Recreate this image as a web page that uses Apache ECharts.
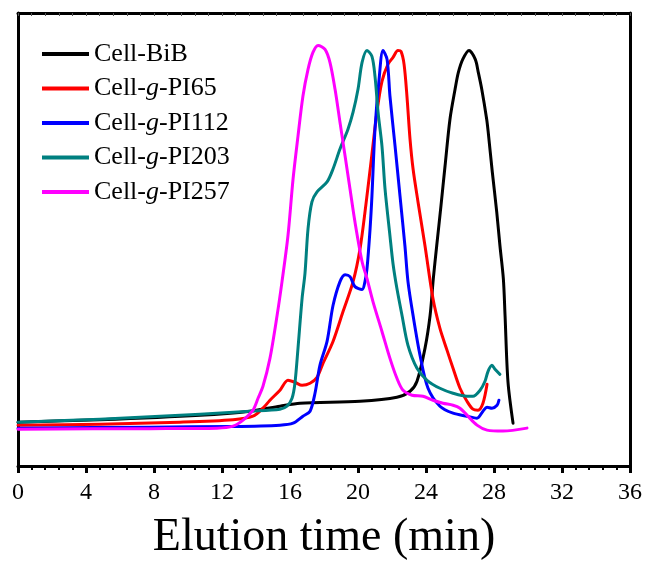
<!DOCTYPE html>
<html>
<head>
<meta charset="utf-8">
<script src="https://cdn.jsdelivr.net/npm/echarts@6/dist/echarts.min.js"></script>
<style>html,body{margin:0;padding:0;background:#fff;}#c{width:648px;height:566px;}</style>
</head>
<body>
<div id="c"></div>
<script>
// Elution time (min) and detector signal (arbitrary units, 0-100) per sample
const seriesNames = ['Cell-BiB', 'Cell-g-PI65', 'Cell-g-PI112', 'Cell-g-PI203', 'Cell-g-PI257'];
const seriesColors = ['#000000', '#ff0000', '#0000ff', '#008080', '#ff00ff'];
const xTicks = [0, 4, 8, 12, 16, 20, 24, 28, 32, 36];

const bibTime = [0, 4.82, 10.71, 13.65, 15.41, 16.59, 20.12, 22.29, 23.06, 23.47, 23.94, 24.24, 24.43, 24.63, 24.88, 25.12, 25.41, 25.71, 25.9, 26.16, 26.53, 26.9, 27.08, 27.28, 27.57, 27.66, 27.9, 28.16, 28.35, 28.55, 28.65, 28.82, 29.12];
const bibSignal = [9.68, 10.23, 11.22, 12.1, 13.2, 13.86, 14.3, 15.18, 16.5, 18.7, 25.96, 33.22, 41.36, 48.62, 57.42, 66.22, 76.56, 83.16, 86.83, 89.76, 91.74, 89.76, 86.83, 83.16, 76.56, 73.7, 64.9, 56.1, 48.62, 41.36, 33.22, 18.7, 9.46];

const pi65Time = [0, 4.82, 9.53, 12.65, 13.82, 14.41, 14.82, 15.41, 15.88, 16.29, 16.71, 17.18, 17.59, 17.94, 18.53, 19.12, 19.71, 20.12, 20.47, 20.82, 21.12, 21.41, 21.76, 22.06, 22.35, 22.53, 22.71, 22.88, 23.06, 23.24, 23.53, 23.94, 24.41, 24.82, 25.24, 25.59, 26.0, 26.41, 26.76, 27.06, 27.35, 27.59];
const pi65Signal = [9.02, 9.24, 9.68, 10.23, 11.0, 12.76, 14.52, 16.72, 18.92, 18.48, 17.82, 18.26, 19.58, 22.66, 27.5, 34.1, 40.7, 47.96, 57.86, 68.86, 78.32, 84.92, 88.66, 90.2, 91.74, 91.52, 88.66, 81.62, 72.16, 65.56, 58.3, 48.62, 36.96, 30.36, 25.52, 21.56, 17.16, 14.3, 12.54, 12.32, 13.86, 18.04];

const pi112Time = [0, 7.76, 12.65, 15.41, 16.18, 16.76, 17.18, 17.47, 17.76, 18.18, 18.53, 18.94, 19.24, 19.53, 19.82, 20.24, 20.41, 20.53, 20.71, 20.82, 21.0, 21.24, 21.47, 21.71, 21.88, 22.18, 22.47, 22.76, 22.94, 23.24, 23.65, 24.12, 24.82, 25.59, 26.41, 27.0, 27.35, 27.59, 27.88, 28.18, 28.29];
const pi112Signal = [8.36, 8.58, 8.73, 9.02, 9.46, 11.0, 12.1, 16.06, 22.22, 27.5, 35.42, 40.7, 42.24, 41.8, 39.6, 38.94, 40.7, 43.56, 52.36, 59.62, 74.36, 85.36, 91.74, 89.76, 81.62, 70.62, 59.62, 48.62, 40.7, 33.22, 24.42, 17.16, 13.2, 11.66, 11.0, 10.56, 12.1, 12.98, 12.76, 13.42, 14.52];

const pi203Time = [0, 4.82, 10.71, 13.65, 15.41, 15.82, 16.12, 16.29, 16.47, 16.71, 16.88, 17.06, 17.29, 17.59, 18.18, 18.53, 18.94, 19.41, 19.71, 20.0, 20.24, 20.53, 20.82, 21.0, 21.18, 21.41, 21.59, 21.88, 22.06, 22.29, 22.59, 22.94, 23.47, 24.06, 24.82, 25.59, 26.41, 26.76, 27.18, 27.47, 27.65, 27.88, 28.06, 28.35];
const pi203Signal = [9.68, 10.34, 11.44, 12.1, 12.54, 13.2, 14.96, 18.26, 25.96, 36.96, 42.46, 52.36, 58.3, 60.5, 62.7, 65.56, 69.96, 74.36, 78.1, 83.16, 89.1, 91.74, 90.42, 86.02, 78.1, 70.62, 61.16, 50.82, 44.66, 39.16, 33.22, 26.62, 21.56, 18.92, 17.16, 16.06, 15.4, 15.4, 16.72, 18.7, 20.9, 22.22, 21.34, 20.24];

const pi257Time = [0, 7.76, 11.71, 12.65, 13.24, 13.82, 14.12, 14.41, 14.82, 15.24, 15.53, 15.88, 16.18, 16.47, 16.76, 17.06, 17.35, 17.65, 18.06, 18.35, 18.65, 18.94, 19.24, 19.53, 19.82, 20.24, 20.53, 20.88, 21.41, 21.88, 22.29, 22.65, 23.18, 23.82, 24.41, 25.0, 25.59, 26.0, 26.41, 27.0, 27.59, 28.53, 29.94];
const pi257Signal = [8.14, 8.25, 8.36, 8.8, 10.12, 12.32, 14.96, 17.6, 23.76, 33.22, 40.7, 50.82, 63.36, 72.82, 81.62, 87.56, 91.3, 92.84, 91.96, 89.1, 83.16, 75.9, 68.42, 61.16, 53.9, 45.1, 41.36, 36.3, 29.7, 23.76, 19.36, 16.72, 15.62, 15.4, 14.52, 13.86, 13.42, 12.76, 11.22, 9.02, 7.92, 7.7, 8.36];

const times = [bibTime, pi65Time, pi112Time, pi203Time, pi257Time];
const signals = [bibSignal, pi65Signal, pi112Signal, pi203Signal, pi257Signal];

const FONT = "'Liberation Serif', 'Times New Roman', serif";

function zip(a, b) { return a.map((v, i) => [v, b[i]]); }

const chart = echarts.init(document.getElementById('c'), null, { renderer: 'canvas' });

const series = seriesNames.map((name, k) => ({
  name: name,
  type: 'line',
  xAxisIndex: 0,
  yAxisIndex: 0,
  data: zip(times[k], signals[k]),
  showSymbol: false,
  symbol: 'none',
  smooth: 0.3,
  lineStyle: { color: seriesColors[k], width: 3, join: 'round', cap: 'round' },
  itemStyle: { color: seriesColors[k] },
  z: 2 + k
}));

chart.setOption({
  animation: false,
  backgroundColor: '#ffffff',
  grid: { left: 18, right: 18, top: 13, bottom: 98, containLabel: false },
  legend: {
    orient: 'vertical',
    left: 37,
    top: 36,
    itemWidth: 47,
    itemHeight: 4,
    itemGap: 8.5,
    icon: 'rect',
    data: seriesNames,
    formatter: function (n) {
      const m = n.match(/^Cell-g-(.*)$/);
      return m ? 'Cell-{i|g}-' + m[1] : n;
    },
    textStyle: {
      fontFamily: FONT, fontSize: 26, color: '#000',
      rich: { i: { fontFamily: FONT, fontSize: 26, fontStyle: 'italic', color: '#000' } }
    }
  },
  xAxis: [
    {
      type: 'value', position: 'bottom', min: xTicks[0], max: xTicks[xTicks.length - 1], interval: 4,
      name: 'Elution time (min)', nameLocation: 'middle', nameGap: 49,
      nameTextStyle: { fontFamily: FONT, fontSize: 46, color: '#000' },
      axisLine: { show: true, onZero: false, lineStyle: { color: '#000', width: 3 } },
      axisTick: { show: true, inside: false, length: 7, lineStyle: { color: '#000', width: 3 } },
      minorTick: { show: true, splitNumber: 5, length: 4, lineStyle: { color: '#000', width: 2 } },
      axisLabel: { show: true, margin: 15, fontFamily: FONT, fontSize: 24, color: '#000' },
      splitLine: { show: false }, minorSplitLine: { show: false }
    },
    {
      type: 'value', position: 'top', min: 0, max: 36, interval: 4,
      axisLine: { show: true, onZero: false, lineStyle: { color: '#000', width: 3 } },
      axisTick: { show: true, inside: true, length: 3, lineStyle: { color: '#555', width: 1 } },
      minorTick: { show: true, splitNumber: 5, length: 3, lineStyle: { color: '#555', width: 1 } },
      axisLabel: { show: false }, splitLine: { show: false }
    }
  ],
  yAxis: [
    {
      type: 'value', position: 'left', min: 0, max: 100,
      axisLine: { show: true, onZero: false, lineStyle: { color: '#000', width: 3 } },
      axisTick: { show: false }, axisLabel: { show: false }, splitLine: { show: false }
    },
    {
      type: 'value', position: 'right', min: 0, max: 100,
      axisLine: { show: true, onZero: false, lineStyle: { color: '#000', width: 3 } },
      axisTick: { show: false }, axisLabel: { show: false }, splitLine: { show: false }
    }
  ],
  series: series
});
</script>
</body>
</html>
